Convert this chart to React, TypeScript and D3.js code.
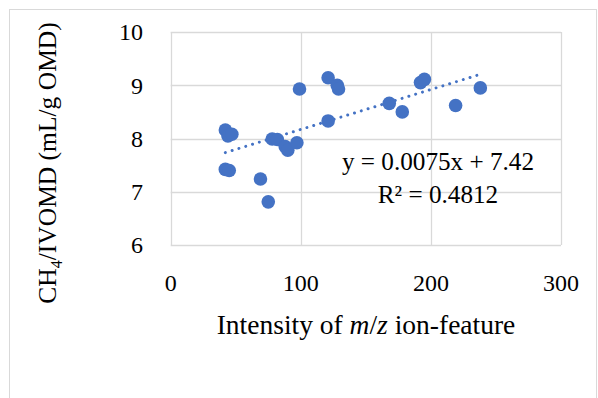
import React from "react";
import * as d3 from "d3";

const xValues = [42, 44, 47, 42, 45, 69, 75, 78, 82, 88, 90, 97, 99, 121, 128, 129, 121, 168, 178, 192, 195, 219, 238];
const yValues = [8.16, 8.05, 8.08, 7.42, 7.40, 7.24, 6.81, 7.99, 7.98, 7.85, 7.78, 7.92, 8.93, 9.14, 9.00, 8.93, 8.33, 8.66, 8.50, 9.05, 9.11, 8.62, 8.95];
const xTicks = [0, 100, 200, 300];
const yTicks = [6, 7, 8, 9, 10];
const slope = [0.0075];
const intercept = [7.42];
const trendRange = [42, 238];
const eqLines = ["y = 0.0075x + 7.42", "R² = 0.4812"];

const W = 598;
const H = 398;
const FONT = "'Liberation Serif', 'Times New Roman', serif";
const BLUE = "#4472C4";
const GRID = "#d9d9d9";

export default function App() {
  const x = d3.scaleLinear().domain([0, 300]).range([170.7, 561]);
  const y = d3.scaleLinear().domain([6, 10]).range([245, 32]);
  const pts = xValues.map((v, i) => [v, yValues[i]] as [number, number]);
  const trend = d3
    .line<number>()
    .x((d) => x(d))
    .y((d) => y(slope[0] * d + intercept[0]));

  return (
    <div style={{ position: "absolute", left: 0, top: 0 }}>
      <svg width={W} height={H} style={{ display: "block", background: "#fff" }}>
        <rect x={9.5} y={9.5} width={587} height={400} fill="#fff" stroke={GRID} strokeWidth={1} />
        {yTicks.map((t) => (
          <line key={"gy" + t} x1={x(0)} x2={x(300)} y1={Math.round(y(t)) + 0.5} y2={Math.round(y(t)) + 0.5} stroke={GRID} strokeWidth={1.3} />
        ))}
        {xTicks.map((t) => (
          <line key={"gx" + t} y1={y(10)} y2={y(6)} x1={Math.round(x(t)) + 0.5} x2={Math.round(x(t)) + 0.5} stroke={GRID} strokeWidth={1.3} />
        ))}
        <path
          d={trend(trendRange) || ""}
          fill="none"
          stroke={BLUE}
          strokeWidth={3}
          strokeDasharray="0.01 7.1"
          strokeLinecap="round"
        />
        {pts.map((p, i) => (
          <circle key={i} cx={x(p[0])} cy={y(p[1])} r={6.8} fill={BLUE} />
        ))}
        {yTicks.map((t) => (
          <text key={"ty" + t} x={143} y={y(t)} dy="0.35em" textAnchor="end" fontFamily={FONT} fontSize={24} fill="#000">
            {t}
          </text>
        ))}
        {xTicks.map((t) => (
          <text key={"tx" + t} x={x(t)} y={291} textAnchor="middle" fontFamily={FONT} fontSize={24} fill="#000">
            {t}
          </text>
        ))}
        <text x={366} y={334} textAnchor="middle" fontFamily={FONT} fontSize={27.5} fill="#000">
          Intensity of <tspan fontStyle="italic">m</tspan>/<tspan fontStyle="italic">z</tspan> ion-feature
        </text>
        <text
          transform={`translate(56,163) rotate(-90)`}
          textAnchor="middle"
          fontFamily={FONT}
          fontSize={25.5}
          fill="#000"
        >
          CH<tspan fontSize={16} dy={6}>4</tspan>
          <tspan dy={-6}>/IVOMD (mL/g OMD)</tspan>
        </text>
        <text x={438} y={170} textAnchor="middle" fontFamily={FONT} fontSize={25.2} fill="#000">
          {eqLines[0]}
        </text>
        <text x={438} y={203} textAnchor="middle" fontFamily={FONT} fontSize={25.2} fill="#000">
          {eqLines[1]}
        </text>
      </svg>
    </div>
  );
}
